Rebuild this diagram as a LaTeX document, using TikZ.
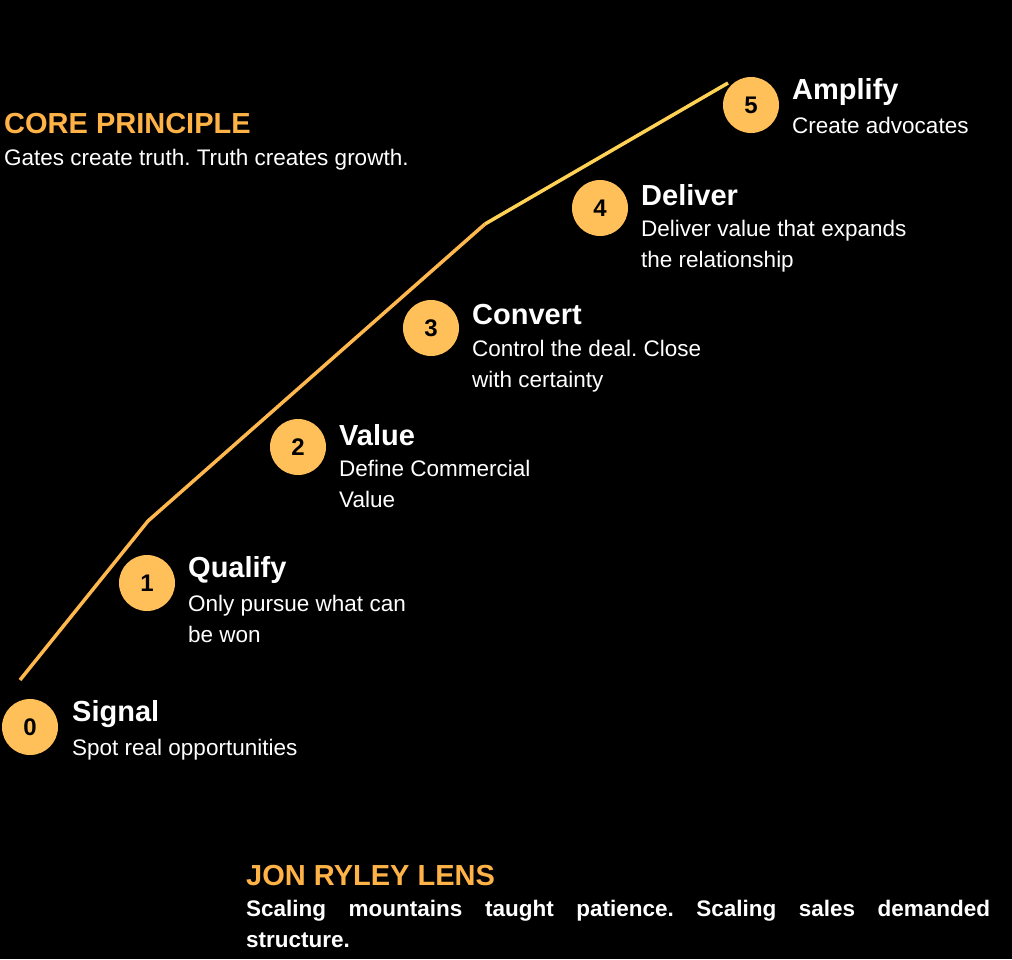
\documentclass[tikz,border=0pt]{standalone}
\usepackage{fontspec}
\setmainfont{Liberation Sans}
\frenchspacing
\definecolor{gold}{HTML}{FFC05A}
\definecolor{lineA}{HTML}{FFB84D}
\definecolor{lineB}{HTML}{FFE45A}
\definecolor{acc}{HTML}{FFB347}
\begin{document}
\begin{tikzpicture}[x=1pt,y=-1pt,
  num/.style={circle,fill=gold,minimum size=56pt,inner sep=0pt,font=\fontsize{24}{24}\selectfont\bfseries},
  ttl/.style={anchor=west,text=white,font=\fontsize{29}{32}\selectfont\bfseries,inner sep=0pt},
  dsc/.style={anchor=north west,text=white,font=\fontsize{22.5}{31}\selectfont,inner sep=0pt,align=left}]
\fill[black] (0,0) rectangle (1012,959);
\useasboundingbox (0,0) rectangle (1012,959);
\coordinate (p0) at (20,680);
\coordinate (p1) at (148,521);
\coordinate (p2) at (485,224);
\coordinate (p3) at (728,83);
\draw[lineA,line width=3.5pt] (p0) -- (p1) -- (p2);
\draw[lineB!60!lineA,line width=3.5pt] (p2) -- (p3);
\node[num] (n0) at (30,727) {0};
\node[num] (n1) at (147,583) {1};
\node[num] (n2) at (298,447) {2};
\node[num] (n3) at (431,328) {3};
\node[num] (n4) at (600,208) {4};
\node[num] (n5) at (751,105) {5};
\node[ttl] (t0) at (72,714) {Signal};
\node[dsc] (d0) at (72,739) {Spot real opportunities};
\node[ttl] (t1) at (188,570) {Qualify};
\node[dsc] (d1) at (188,595) {Only pursue what can\\be won};
\node[ttl] (t2) at (339,435) {Value};
\node[dsc] (d2) at (339,460) {Define Commercial\\Value};
\node[ttl] (t3) at (472,315) {Convert};
\node[dsc] (d3) at (472,340) {Control the deal. Close\\with certainty};
\node[ttl] (t4) at (641,195) {Deliver};
\node[dsc] (d4) at (641,220) {Deliver value that expands\\the relationship};
\node[ttl] (t5) at (792,92) {Amplify};
\node[dsc] (d5) at (792,117) {Create advocates};
\node[anchor=west,inner sep=0pt,text=acc,font=\fontsize{29}{32}\selectfont\bfseries] (cp) at (4,124) {CORE PRINCIPLE};
\node[dsc] (cpd) at (4,149) {Gates create truth. Truth creates growth.};
\node[anchor=west,inner sep=0pt,text=acc,font=\fontsize{29}{32}\selectfont\bfseries] (jr) at (246,876) {JON RYLEY LENS};
\node[anchor=north west,inner sep=0pt,text=white,text width=744pt,align=justify,font=\fontsize{22.5}{31}\selectfont\bfseries] (jrd) at (246,900) {Scaling mountains taught patience. Scaling sales demanded\linebreak structure.};
\end{tikzpicture}
\end{document}
